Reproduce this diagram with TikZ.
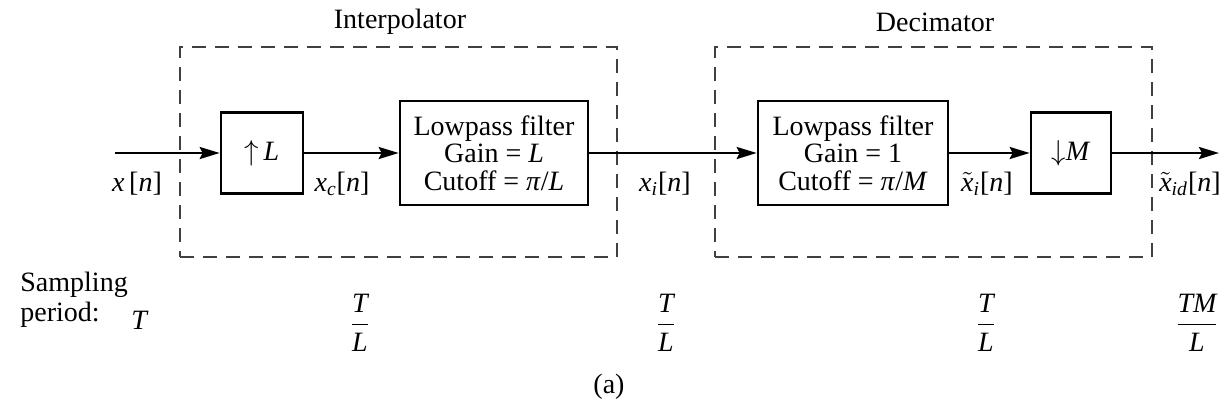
\documentclass[tikz,border=0pt]{standalone}
\usepackage{amsmath}
\usepackage{fontspec}
\setmainfont{Liberation Serif}
\usetikzlibrary{arrows.meta}
\begin{document}
\begin{tikzpicture}[x=0.5pt,y=-0.5pt,
  font=\fontsize{14}{13.8}\selectfont,
  blk/.style={draw, line width=1.3pt, inner sep=0pt, align=center},
  sig/.style={line width=1.3pt, -{Stealth[length=10pt,width=6pt,inset=1.5pt]}},
  grp/.style={draw=black!75, line width=1pt, dash pattern=on 7pt off 4.5pt, inner sep=0pt},
  lbl/.style={inner sep=0pt}]
\useasboundingbox (0,0) rectangle (1223,414);
% dashed groups
\node[grp, minimum width=218.5pt, minimum height=105pt] (ibox) at (398.5,152) {};
\node[grp, minimum width=218.5pt, minimum height=105pt] (dbox) at (933.5,152) {};
\node[lbl] (ititle) at (400,22) {Interpolator};
\node[lbl] (dtitle) at (935,22) {Decimator};
% blocks
\node[blk, minimum width=41pt, minimum height=40.5pt] (up) at (262,153) {$\uparrow$\,\textit{L}};
\node[blk, minimum width=94pt, minimum height=52pt] (lpf1) at (494,153) {Lowpass filter\\Gain = \textit{L}\\Cutoff = \textit{π}/\textit{L}};
\node[blk, minimum width=95pt, minimum height=52pt] (lpf2) at (853,153) {Lowpass filter\\Gain = 1\\Cutoff = \textit{π}/\textit{M}};
\node[blk, minimum width=40pt, minimum height=40.5pt] (down) at (1071,153) {$\downarrow$\textit{M}};
\coordinate (in) at (115,153);
\coordinate (out) at (1219,153);
% connectors
\draw[sig] (in) -- (up);
\draw[sig] (up) -- (lpf1);
\draw[sig] (lpf1) -- (lpf2);
\draw[sig] (lpf2) -- (down);
\draw[sig] (down) -- (out);
% signal labels
\node[lbl] (lx) at (137,184) {\textit{x}\,[\textit{n}]};
\node[lbl] (lxc) at (342,184) {\textit{x}\textsubscript{\textit{c}}[\textit{n}]};
\node[lbl] (lxi) at (665,184) {\textit{x}\textsubscript{\textit{i}}[\textit{n}]};
\node[lbl] (lxti) at (987,184) {$\tilde{\textit{x}}$\textsubscript{\textit{i}}[\textit{n}]};
\node[lbl] (lxtid) at (1190,184) {$\tilde{\textit{x}}$\textsubscript{\textit{id}}[\textit{n}]};
% sampling periods
\node[lbl, anchor=north west, align=left, font=\fontsize{14}{15}\selectfont] (sp) at (20,272) {Sampling\\period:};
\node[lbl] (p0) at (140,320) {\textit{T}};
\node[lbl] (p1) at (360,323) {$\dfrac{\textit{T}}{\textit{L}}$};
\node[lbl] (p2) at (666,323) {$\dfrac{\textit{T}}{\textit{L}}$};
\node[lbl] (p3) at (986,323) {$\dfrac{\textit{T}}{\textit{L}}$};
\node[lbl] (p4) at (1197,323) {$\dfrac{\textit{TM}}{\textit{L}}$};
\node[lbl] (cap) at (609,387) {(a)};
\end{tikzpicture}
\end{document}
